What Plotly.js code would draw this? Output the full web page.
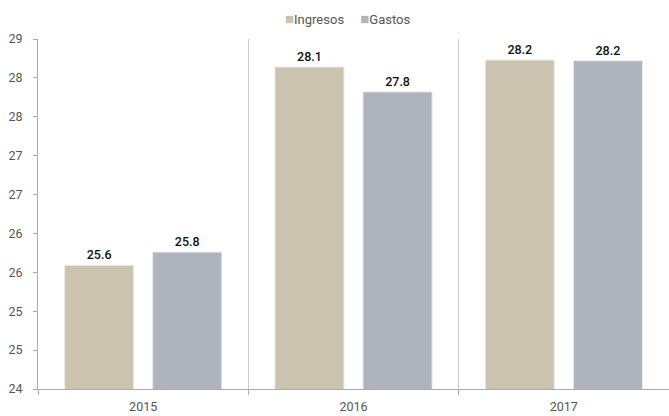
<!DOCTYPE html>
<html>
<head>
<meta charset="utf-8">
<script src="https://cdn.plot.ly/plotly-3.0.1.min.js"></script>
<style>html,body{margin:0;padding:0;background:#fff}#chart{width:669px;height:416px}</style>
</head>
<body>
<div id="chart"></div>
<script>
var years = ['2015', '2016', '2017'];
var ingresos = [25.59, 28.14, 28.23];
var gastos = [25.76, 27.82, 28.22];
var seriesNames = ['Ingresos', 'Gastos'];
var seriesColors = ['#C9C3B0', '#ADB4BD'];
var yTickVals = [24, 24.5, 25, 25.5, 26, 26.5, 27, 27.5, 28, 28.5];
var yTickText = ['24', '25', '25', '26', '26', '27', '27', '28', '28', '29'];

var FONT = 'Roboto, "Open Sans", sans-serif';

var traces = [
  {
    type: 'bar', name: seriesNames[0], x: years, y: ingresos,
    marker: {color: seriesColors[0], line: {color: '#EFEDE6', width: 1}},
    texttemplate: '%{y:.1f}', textposition: 'outside',
    textfont: {family: FONT, size: 12.5, color: '#111', weight: 500},
    cliponaxis: false
  },
  {
    type: 'bar', name: seriesNames[1], x: years, y: gastos,
    marker: {color: seriesColors[1], line: {color: '#E8EBEE', width: 1}},
    texttemplate: '%{y:.1f}', textposition: 'outside',
    textfont: {family: FONT, size: 12.5, color: '#111', weight: 500},
    cliponaxis: false
  }
];

var legendText = seriesNames.map(function (n, i) {
  return '<span style="color:' + seriesColors[i] + ';font-size:15px">■</span>' + n;
}).join('\u00a0\u00a0\u00a0\u00a0\u00a0');

var layout = {
  width: 669, height: 416,
  margin: {l: 38, r: 0, t: 39, b: 27},
  paper_bgcolor: '#fff', plot_bgcolor: '#fff',
  font: {family: FONT, size: 12.5, color: '#555'},
  barmode: 'group', bargap: 0.162, bargroupgap: 0.216,
  showlegend: false,
  annotations: [{
    xref: 'paper', yref: 'paper', x: 0.49, y: 1.057, xanchor: 'center', yanchor: 'middle',
    text: legendText, showarrow: false,
    font: {family: FONT, size: 13, color: '#555'}
  }],
  xaxis: {
    type: 'category', tickson: 'boundaries', ticks: 'outside', ticklen: 5,
    tickcolor: '#aaa', showgrid: true, gridcolor: '#ccc', gridwidth: 1,
    showline: true, linecolor: '#aaa', linewidth: 1,
    ticklabelstandoff: 6,
    tickfont: {family: FONT, size: 12.5, color: '#555'},
    zeroline: false, fixedrange: true
  },
  yaxis: {
    range: [24, 28.5], tickmode: 'array', tickvals: yTickVals, ticktext: yTickText,
    ticks: 'outside', ticklen: 4, tickcolor: '#aaa',
    showline: true, linecolor: '#aaa', linewidth: 1,
    showgrid: false, zeroline: false,
    ticklabelstandoff: 8,
    tickfont: {family: FONT, size: 12.5, color: '#555'},
    fixedrange: true
  }
};

Plotly.newPlot('chart', traces, layout, {displayModeBar: false, staticPlot: true});
</script>
</body>
</html>
